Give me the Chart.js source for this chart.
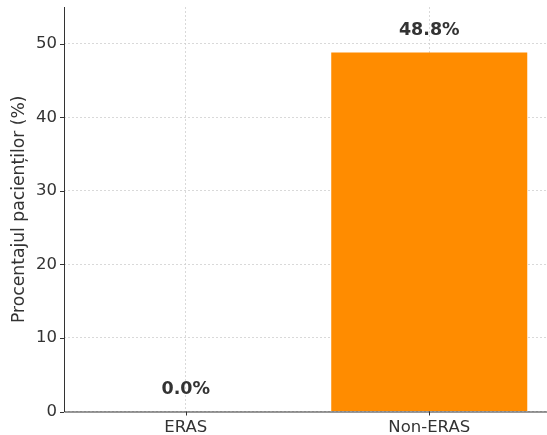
<!DOCTYPE html>
<html lang="ro">
<head>
    <meta charset="UTF-8">
    <title>Procentajul pacienților</title>
    <script src="https://cdn.jsdelivr.net/npm/chart.js"></script>
    <style>
        * {
            margin: 0;
            padding: 0;
            box-sizing: border-box;
        }

        body {
            background: #fff;
            overflow: hidden;
            font-family: "DejaVu Sans", sans-serif;
        }

        #wrap {
            position: absolute;
            left: 0;
            top: 0;
            width: 560px;
            height: 435px;
        }
    </style>
</head>
<body>

    <div id="wrap">
        <canvas id="chart" width="560" height="435"></canvas>
    </div>

    <script>
        const groups = ['ERAS', 'Non-ERAS'];
        const percentages = [0.0, 48.8];
        const yTicks = [0, 10, 20, 30, 40, 50];
        const yMax = 55;

        const ink = '#333333';
        const font = '"DejaVu Sans", sans-serif';

        // solid spines, small outward ticks and value labels above the bars
        const axesPlugin = {
            id: 'axes',
            afterDatasetsDraw(chart) {
                const { ctx, chartArea, scales } = chart;
                const x = scales.x, y = scales.y;
                ctx.save();
                ctx.strokeStyle = ink;
                ctx.lineWidth = 1;
                ctx.setLineDash([]);
                ctx.beginPath();
                ctx.moveTo(chartArea.left + 0.5, chartArea.top);
                ctx.lineTo(chartArea.left + 0.5, chartArea.bottom + 0.5);
                ctx.lineTo(chartArea.right, chartArea.bottom + 0.5);
                yTicks.forEach(v => {
                    const py = Math.round(y.getPixelForValue(v)) + 0.5;
                    ctx.moveTo(chartArea.left - 4, py);
                    ctx.lineTo(chartArea.left, py);
                });
                groups.forEach((g, i) => {
                    const px = Math.round(x.getPixelForValue(i)) + 0.5;
                    ctx.moveTo(px, chartArea.bottom);
                    ctx.lineTo(px, chartArea.bottom + 4);
                });
                ctx.stroke();

                ctx.fillStyle = ink;
                ctx.font = 'bold 17.5px ' + font;
                ctx.textAlign = 'center';
                ctx.textBaseline = 'alphabetic';
                percentages.forEach((v, i) => {
                    ctx.fillText(v.toFixed(1) + '%', x.getPixelForValue(i), y.getPixelForValue(v + 2) - 2.5);
                });
                ctx.restore();
            }
        };

        new Chart(document.getElementById('chart'), {
            type: 'bar',
            data: {
                labels: groups,
                datasets: [{
                    data: percentages,
                    backgroundColor: '#ff8c00',
                    borderWidth: 0,
                    categoryPercentage: 1,
                    barPercentage: 0.805
                }]
            },
            options: {
                responsive: false,
                animation: false,
                layout: {
                    autoPadding: false,
                    padding: { top: 7, right: 9, left: 0, bottom: 0 }
                },
                plugins: {
                    legend: { display: false },
                    tooltip: { enabled: false }
                },
                scales: {
                    x: {
                        offset: true,
                        grid: {
                            offset: false,
                            color: '#d0d0d0',
                            lineWidth: 0.8,
                            drawTicks: false
                        },
                        border: { display: false, dash: [2, 2] },
                        ticks: {
                            color: ink,
                            padding: 6,
                            font: { family: font, size: 16.5 }
                        },
                        afterFit(scale) {
                            scale.height = 23.5;
                            scale.paddingLeft = 0;
                            scale.paddingRight = 0;
                        }
                    },
                    y: {
                        min: 0,
                        max: yMax,
                        afterBuildTicks(scale) {
                            scale.ticks = yTicks.map(v => ({ value: v }));
                        },
                        grid: {
                            color: '#d0d0d0',
                            lineWidth: 0.8,
                            drawTicks: false
                        },
                        border: { display: false, dash: [2, 2] },
                        ticks: {
                            color: ink,
                            padding: 7,
                            font: { family: font, size: 16.5 }
                        },
                        title: {
                            display: true,
                            text: 'Procentajul pacienților (%)',
                            color: ink,
                            font: { family: font, size: 17.2 },
                            padding: { top: 9, bottom: 0 }
                        },
                        afterFit(scale) {
                            scale.width = 64;
                            scale.paddingTop = 0;
                            scale.paddingBottom = 0;
                        }
                    }
                }
            },
            plugins: [axesPlugin]
        });
    </script>

</body>
</html>
